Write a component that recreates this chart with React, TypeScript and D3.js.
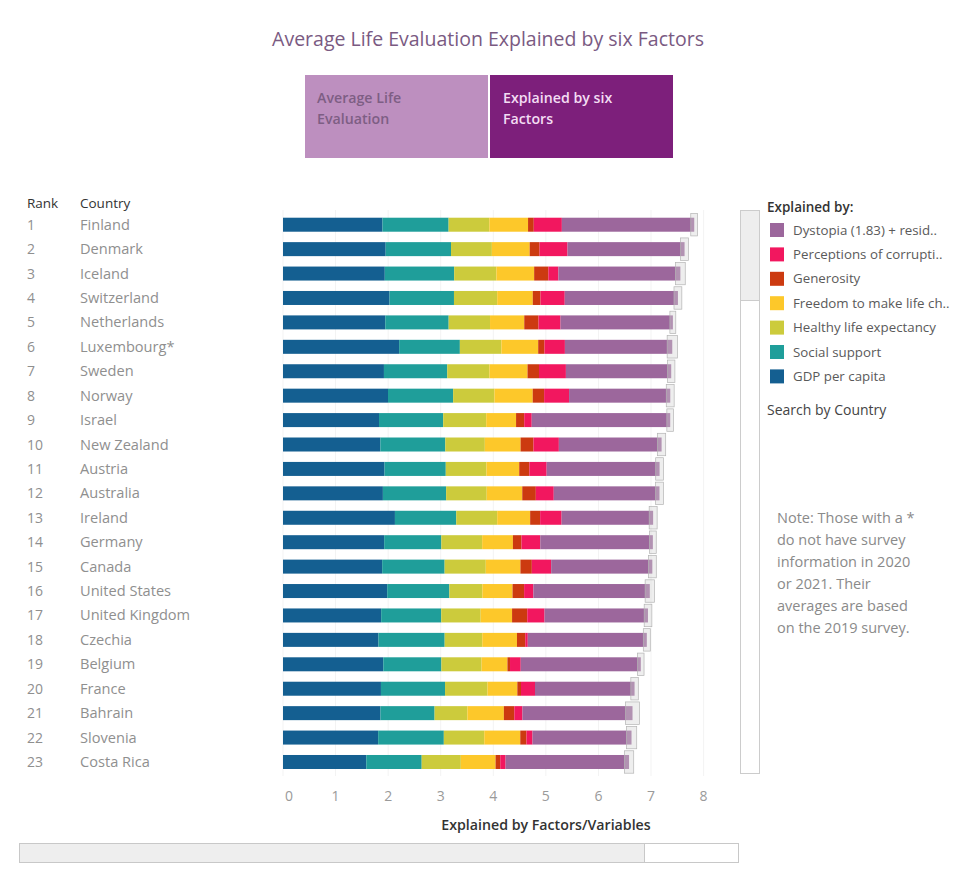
import React from "react";
import * as d3 from "d3";

const countries = ["Finland","Denmark","Iceland","Switzerland","Netherlands","Luxembourg*","Sweden","Norway","Israel","New Zealand","Austria","Australia","Ireland","Germany","Canada","United States","United Kingdom","Czechia","Belgium","France","Bahrain","Slovenia","Costa Rica"];
const gdp = [1.892,1.953,1.936,2.026,1.945,2.209,1.920,1.997,1.826,1.852,1.931,1.900,2.129,1.924,1.886,1.982,1.867,1.815,1.907,1.863,1.854,1.810,1.584];
const social = [1.258,1.243,1.320,1.226,1.206,1.155,1.204,1.239,1.221,1.235,1.165,1.203,1.166,1.088,1.188,1.182,1.143,1.260,1.106,1.219,1.029,1.249,1.054];
const health = [0.775,0.777,0.803,0.822,0.787,0.790,0.803,0.786,0.818,0.752,0.774,0.772,0.779,0.776,0.783,0.628,0.750,0.715,0.764,0.808,0.625,0.769,0.744];
const freedom = [0.736,0.719,0.718,0.677,0.651,0.700,0.724,0.728,0.568,0.680,0.623,0.676,0.627,0.585,0.659,0.574,0.597,0.660,0.492,0.567,0.693,0.685,0.661];
const generosity = [0.109,0.188,0.270,0.147,0.271,0.120,0.218,0.217,0.155,0.245,0.193,0.258,0.190,0.163,0.217,0.220,0.289,0.158,0.049,0.070,0.199,0.118,0.089];
const corruption = [0.534,0.532,0.191,0.461,0.419,0.388,0.512,0.474,0.143,0.483,0.329,0.341,0.408,0.358,0.368,0.177,0.329,0.048,0.204,0.266,0.155,0.115,0.102];
const dystopia = [2.518,2.226,2.320,2.153,2.137,2.042,2.003,1.925,2.634,1.954,2.148,2.011,1.741,2.141,1.924,2.214,1.967,2.264,2.284,1.894,2.093,1.883,2.348];
const whiskerLow = [7.756,7.563,7.464,7.437,7.359,7.307,7.315,7.290,7.301,7.120,7.089,7.087,6.965,6.969,6.950,6.888,6.870,6.853,6.742,6.616,6.514,6.532,6.493];
const whiskerHigh = [7.886,7.710,7.651,7.586,7.471,7.501,7.454,7.440,7.426,7.279,7.237,7.236,7.116,7.099,7.100,7.065,7.016,6.986,6.867,6.758,6.779,6.728,6.671];

const seriesKeys = ["gdp","social","health","freedom","generosity","corruption","dystopia"];
const seriesColors = ["#145f91","#1f9e9a","#cccb3c","#fdc82a","#cc3a10","#f2175f","#9c679c"];
const legendLabels = ["Dystopia (1.83) + resid..","Perceptions of corrupti..","Generosity","Freedom to make life ch..","Healthy life expectancy","Social support","GDP per capita"];
const legendColors = ["#9c679c","#f2175f","#cc3a10","#fdc82a","#cccb3c","#1f9e9a","#145f91"];
const xTicks = [0,1,2,3,4,5,6,7,8];
const noteLines = ["Note: Those with a *","do not have survey","information in 2020","or 2021. Their","averages are based","on the 2019 survey."];

const FONT = "'Open Sans', sans-serif";

export default function App() {
  const x = d3.scaleLinear().domain([0, 8]).range([283, 703.6]);
  const y = d3.scalePoint<string>().domain(countries).range([212.5, 774.2]).padding(0.5);
  const step = y.step();
  const barH = 14;

  const rows = countries.map((c, i) => ({
    country: c,
    gdp: gdp[i], social: social[i], health: health[i], freedom: freedom[i],
    generosity: generosity[i], corruption: corruption[i], dystopia: dystopia[i],
  }));
  const stacked = d3.stack<any>().keys(seriesKeys)(rows);

  return (
    <svg width={977} height={885} style={{ position: "absolute", left: 0, top: 0, fontFamily: FONT }}>
      <rect width={977} height={885} fill="#ffffff" />
      <text x={488} y={46} textAnchor="middle" fontSize={19.5} fill="#7a5a82">
        Average Life Evaluation Explained by six Factors
      </text>

      {/* toggle buttons */}
      <rect x={305} y={75} width={183} height={83} fill="#bd8fbf" />
      <text x={317} y={103} fontSize={14.2} fill="#7d5e84" fontWeight={600}>Average Life</text>
      <text x={317} y={124} fontSize={14.2} fill="#7d5e84" fontWeight={600}>Evaluation</text>
      <rect x={490} y={75} width={183} height={83} fill="#7d1f7b" />
      <text x={503} y={103} fontSize={14.2} fill="#f3dcf3" fontWeight={600}>Explained by six</text>
      <text x={503} y={124} fontSize={14.2} fill="#f3dcf3" fontWeight={600}>Factors</text>

      {/* headers */}
      <text x={27} y={208} fontSize={13.5} fill="#333">Rank</text>
      <text x={80} y={208} fontSize={13.5} fill="#333">Country</text>

      {/* gridlines */}
      {xTicks.map((t) => (
        <line key={"g" + t} x1={x(t)} x2={x(t)} y1={210} y2={776} stroke="#f3f3f3" strokeWidth={1} />
      ))}

      {countries.map((c, i) => (
        <g key={c}>
          <text x={27} y={(y(c) as number) + 5} fontSize={14} fill="#8f8f8f">{i + 1}</text>
          <text x={80} y={(y(c) as number) + 5} fontSize={14.6} fill="#8f8f8f">{c}</text>
        </g>
      ))}

      {stacked.map((s, si) => (
        <g key={seriesKeys[si]} fill={seriesColors[si]}>
          {s.map((d: any) => (
            <rect key={d.data.country} x={x(d[0])} width={Math.max(0, x(d[1]) - x(d[0]))}
              y={(y(d.data.country) as number) - barH / 2} height={barH} />
          ))}
        </g>
      ))}

      {countries.map((c, i) => (
        <rect key={"w" + c} x={x(whiskerLow[i])} width={x(whiskerHigh[i]) - x(whiskerLow[i])}
          y={(y(c) as number) - step / 2 + 1} height={step - 2}
          fill="#d4d4d4" fillOpacity={0.4} stroke="#b4b4b4" strokeWidth={0.7} />
      ))}

      {/* x axis */}
      {xTicks.map((t) => (
        <text key={"t" + t} x={t === 0 ? x(t) + 6 : x(t)} y={801} textAnchor="middle" fontSize={14} fill="#9a9a9a">{t}</text>
      ))}
      <text x={546} y={830} textAnchor="middle" fontSize={14.2} fill="#333" fontWeight={600}>Explained by Factors/Variables</text>

      {/* bottom scrollbar */}
      <rect x={19.5} y={843.5} width={719} height={19} fill="#ffffff" stroke="#c8c8c8" />
      <rect x={20} y={844} width={624} height={18} fill="#eeeeee" />
      <line x1={644.5} x2={644.5} y1={844} y2={862} stroke="#c8c8c8" />

      {/* vertical scrollbar */}
      <rect x={740.5} y={210.5} width={19} height={563} fill="#ffffff" stroke="#cccccc" />
      <rect x={741} y={211} width={18} height={89} fill="#eeeeee" />
      <line x1={741} x2={759} y1={300.5} y2={300.5} stroke="#cccccc" />

      {/* legend */}
      <text x={767} y={212} fontSize={13.5} fill="#333" fontWeight={600}>Explained by:</text>
      {legendLabels.map((l, i) => (
        <g key={l}>
          <rect x={770} y={223 + i * 24.4} width={14} height={14} fill={legendColors[i]} />
          <text x={793} y={234.5 + i * 24.4} fontSize={13.3} fill="#5a5a5a">{l}</text>
        </g>
      ))}
      <text x={767} y={415} fontSize={14} fill="#444">Search by Country</text>

      {noteLines.map((l, i) => (
        <text key={l} x={777} y={523 + i * 22} fontSize={14.5} fill="#8a8a8a">{l}</text>
      ))}
    </svg>
  );
}
